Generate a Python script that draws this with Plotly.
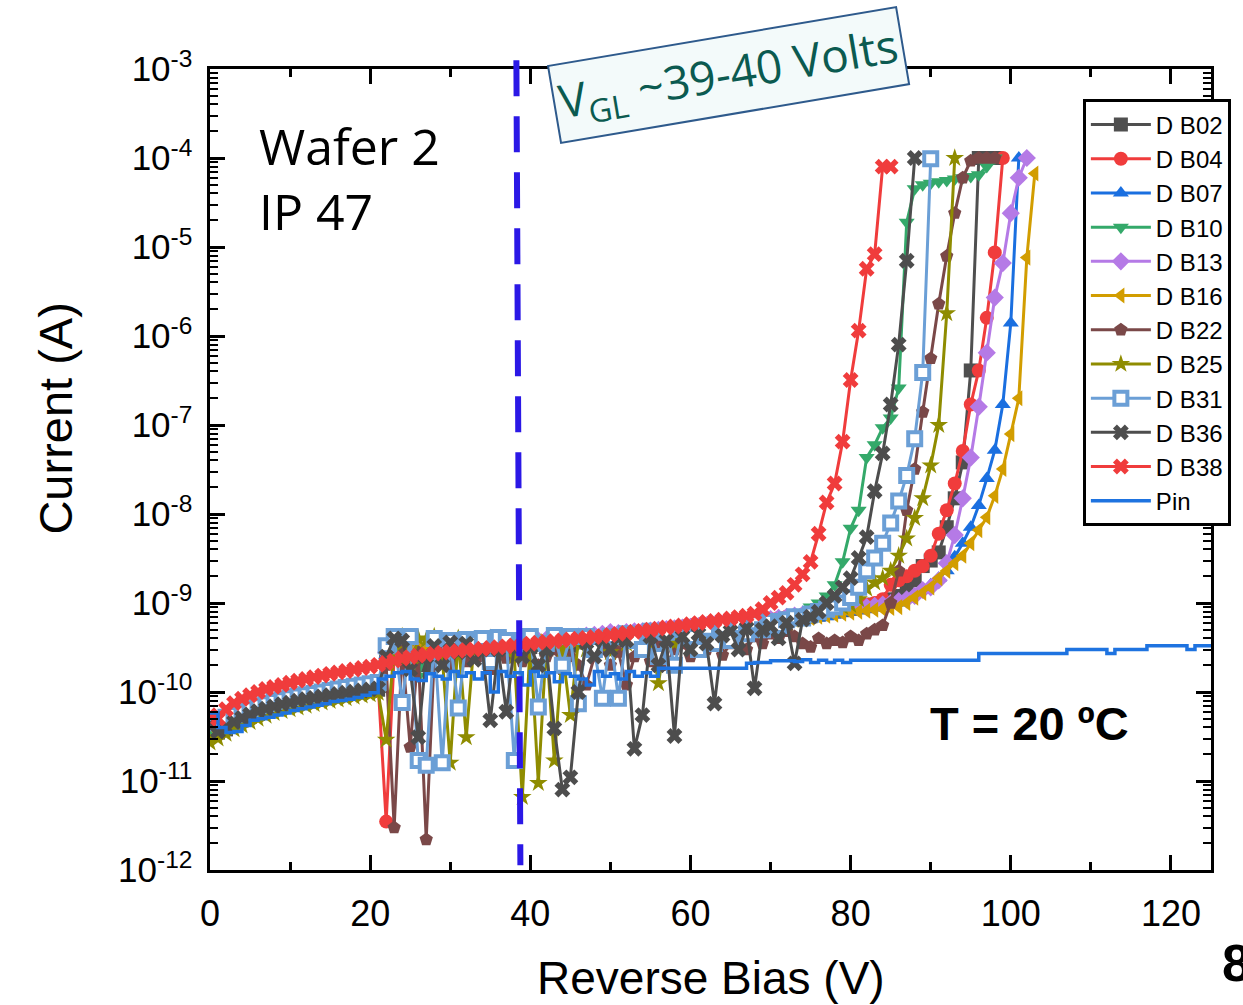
import plotly.graph_objects as go

# Currents in pA (1 pA = 1e-12 A); index = reverse bias in volts (1 V steps)
PA = 1e-12

db02 = [40, 35, 38, 43, 48, 53, 57, 61, 65, 69,
        72, 76, 79, 82, 85, 88, 91, 94, 97, 100,
        103, 106, 280, 300, 250, 310, 290, 200, 300, 310,
        260, 320, 300, 330, 280, 320, 340, 300, 330, 350,
        320, 340, 300, 360, 350, 330, 370, 360, 380, 350,
        390, 400, 380, 410, 420, 400, 440, 450, 430, 470,
        480, 460, 500, 510, 490, 530, 540, 520, 560, 580,
        600, 620, 640, 660, 690, 710, 740, 770, 800, 830,
        860, 890, 920, 960, 1000, 1100, 1200, 1400, 1800, 2600,
        3000, 3700, 7100, 15000, 38000, 410000, 1e8, 1e8, 1e8]

db04 = [50, 42, 45, 50, 55, 60, 65, 69, 73, 77,
        81, 85, 88, 92, 95, 98, 102, 105, 108, 111,
        115, 120, 3.5, 250, 280, 260, 290, 270, 300, 280,
        310, 300, 320, 310, 330, 320, 340, 330, 350, 340,
        360, 350, 370, 360, 380, 370, 390, 390, 400, 400,
        410, 420, 430, 440, 450, 460, 470, 480, 490, 500,
        510, 520, 530, 540, 550, 560, 580, 600, 620, 640,
        660, 680, 700, 720, 740, 760, 780, 800, 830, 860,
        890, 920, 960, 1000, 1100, 1600, 1800, 2000, 2300, 2600,
        3400, 6000, 11000, 22000, 51000, 170000, 410000, 1.6e6, 8.7e6, 1e8]

db07 = [45, 37, 40, 45, 50, 54, 58, 62, 66, 70,
        73, 77, 80, 83, 86, 89, 92, 95, 98, 101,
        104, 108, 260, 270, 280, 270, 290, 280, 300, 290,
        300, 310, 300, 320, 310, 330, 320, 330, 340, 330,
        350, 340, 350, 360, 350, 370, 360, 380, 370, 390,
        380, 400, 400, 410, 420, 420, 430, 440, 450, 460,
        470, 480, 490, 500, 510, 520, 530, 540, 550, 560,
        580, 590, 600, 620, 640, 660, 680, 700, 740, 770,
        800, 830, 860, 890, 920, 960, 1000, 1100, 1250, 1400,
        1600, 1900, 2300, 3300, 4700, 7100, 12500, 25000, 52000, 170000,
        1.4e6, 1e8]

db10 = [38, 34, 38, 43, 48, 53, 58, 62, 66, 70,
        73, 77, 80, 83, 86, 89, 92, 95, 98, 101,
        104, 108, 250, 260, 240, 270, 150, 280, 260, 290,
        270, 300, 280, 310, 290, 320, 300, 330, 310, 340,
        320, 340, 330, 350, 340, 360, 350, 370, 360, 380,
        380, 400, 390, 410, 420, 430, 440, 450, 460, 470,
        480, 490, 500, 510, 520, 530, 540, 560, 580, 600,
        620, 640, 660, 690, 720, 900, 1000, 1200, 1600, 2900,
        6900, 11000, 43000, 60000, 93000, 120000, 260000, 1.9e7, 4.5e7, 5.0e7,
        5.2e7, 5.4e7, 5.6e7, 5.8e7, 6.0e7, 6.2e7, 6.5e7, 8.0e7, 1e8]

db13 = [48, 40, 43, 48, 53, 58, 62, 66, 70, 74,
        78, 82, 85, 88, 92, 95, 98, 101, 104, 108,
        112, 116, 280, 290, 300, 300, 310, 310, 320, 320,
        330, 330, 340, 340, 350, 350, 360, 360, 370, 370,
        380, 380, 390, 390, 400, 410, 420, 430, 440, 450,
        470, 460, 470, 480, 480, 490, 500, 510, 520, 530,
        540, 550, 560, 570, 580, 590, 600, 610, 630, 650,
        660, 680, 700, 720, 740, 760, 780, 800, 820, 840,
        860, 880, 900, 930, 960, 1000, 1050, 1100, 1200, 1400,
        1500, 1800, 2800, 5800, 15000, 43000, 160000, 650000, 2.7e6, 6.6e6,
        2.4e7, 6e7, 1e8]

db16 = [44, 36, 39, 44, 49, 53, 57, 61, 65, 69,
        72, 76, 79, 82, 85, 88, 91, 94, 97, 100,
        103, 107, 270, 280, 290, 290, 300, 300, 310, 310,
        320, 320, 330, 330, 340, 340, 350, 350, 360, 360,
        370, 370, 380, 380, 390, 390, 400, 400, 410, 410,
        420, 430, 440, 450, 460, 470, 480, 490, 500, 510,
        520, 530, 540, 550, 560, 570, 580, 590, 600, 610,
        620, 630, 640, 650, 660, 680, 700, 720, 740, 760,
        780, 800, 820, 840, 860, 880, 900, 1000, 1150, 1300,
        1500, 1900, 2300, 2800, 3400, 4700, 6600, 9200, 16000, 32000,
        79000, 200000, 7.6e6, 6.7e7]

db22 = [45, 38, 40, 45, 50, 55, 60, 64, 68, 72,
        75, 79, 82, 85, 88, 91, 94, 97, 100, 103,
        106, 110, 200, 3.0, 300, 24, 280, 2.2, 250, 300,
        200, 280, 220, 300, 250, 180, 280, 240, 300, 220,
        280, 200, 250, 300, 180, 250, 200, 120, 250, 300,
        200, 280, 120, 250, 300, 220, 330, 200, 300, 350,
        250, 330, 300, 380, 260, 350, 400, 300, 420, 350,
        450, 400, 480, 420, 350, 320, 400, 350, 380, 360,
        420, 380, 450, 500, 560, 1000, 2300, 11000, 32000, 140000,
        560000, 2.3e6, 7.9e6, 2.4e7, 6e7, 9.3e7, 1e8, 1e8, 1e8]

db25 = [27, 30, 34, 38, 42, 46, 50, 54, 58, 61,
        64, 67, 70, 73, 76, 79, 82, 85, 88, 91,
        94, 98, 29, 300, 420, 200, 400, 380, 420, 250,
        16, 400, 31, 380, 300, 400, 320, 380, 250, 6.6,
        380, 9.5, 350, 17, 300, 55, 380, 300, 350, 400,
        280, 420, 350, 430, 300, 450, 125, 460, 350, 480,
        400, 500, 380, 520, 450, 550, 420, 560, 480, 600,
        550, 620, 600, 650, 700, 720, 780, 820, 850, 900,
        950, 1100, 1450, 1700, 1900, 2300, 3400, 5300, 9000, 15000,
        35000, 100000, 1.8e6, 1e8]

db31 = [48, 45, 52, 56, 60, 65, 70, 74, 78, 82,
        86, 90, 93, 96, 100, 104, 108, 112, 116, 120,
        124, 128, 330, 420, 76, 420, 17, 15, 400, 16,
        380, 66, 390, 360, 400, 220, 410, 380, 17, 380,
        420, 68, 350, 430, 200, 420, 74, 420, 300, 85,
        420, 85, 450, 380, 300, 480, 250, 470, 200, 500,
        420, 300, 520, 350, 540, 380, 560, 450, 600, 500,
        620, 560, 650, 700, 680, 750, 800, 850, 900, 1000,
        1150, 1500, 2300, 3200, 4700, 7900, 14000, 27000, 70000, 390000,
        9.8e7]

db36 = [42, 36, 40, 46, 51, 56, 61, 65, 69, 73,
        76, 80, 83, 86, 89, 92, 95, 98, 101, 104,
        107, 110, 250, 400, 380, 180, 31, 250, 330, 200,
        360, 280, 350, 230, 300, 48, 300, 60, 330, 250,
        320, 200, 300, 39, 8, 11, 100, 360, 250, 380,
        300, 400, 380, 23, 55, 420, 200, 380, 32, 420,
        300, 450, 350, 74, 430, 480, 300, 520, 110, 500,
        550, 400, 600, 210, 650, 700, 800, 1000, 1200, 1500,
        1900, 3200, 5500, 18000, 48000, 170000, 800000, 7e6, 1e8]

db38 = [55, 50, 64, 75, 84, 92, 100, 108, 114, 120,
        127, 134, 140, 147, 153, 160, 166, 172, 179, 186,
        193, 202, 212, 225, 238, 247, 256, 263, 270, 277,
        284, 290, 296, 301, 306, 312, 318, 326, 333, 340,
        350, 358, 365, 372, 380, 390, 398, 406, 415, 425,
        437, 450, 462, 475, 487, 500, 515, 530, 545, 560,
        578, 595, 612, 630, 650, 672, 695, 720, 760, 850,
        1000, 1150, 1300, 1600, 2100, 2900, 6000, 13500, 22000, 65000,
        320000, 1.15e6, 5.7e6, 8.3e6, 8e7, 8e7]

pin = [58, 40, 35, 36, 42, 48, 50, 52, 55, 58,
       62, 65, 68, 71, 74, 78, 80, 83, 87, 92,
       98, 140, 150, 165, 170, 140, 135, 160, 150, 140,
       170, 150, 165, 140, 165, 100, 170, 150, 165, 120,
       170, 150, 165, 130, 160, 150, 140, 120, 170, 150,
       160, 140, 170, 150, 165, 150, 185, 185, 185, 185,
       185, 185, 185, 185, 185, 185, 185, 210, 215, 215,
       225, 225, 225, 220, 230, 215, 228, 215, 228, 215,
       228, 228, 228, 228, 228, 228, 228, 228, 228, 228,
       228, 228, 228, 228, 228, 228, 270, 270, 270, 270,
       270, 270, 270, 270, 270, 270, 270, 300, 300, 300,
       300, 300, 270, 300, 300, 300, 300, 330, 330, 330,
       330, 330, 300, 330, 330, 330]

series = [
    ("D B02", db02, "square", "#4f4f4f"),
    ("D B04", db04, "circle", "#f03c3c"),
    ("D B07", db07, "triangle-up", "#1a6fe0"),
    ("D B10", db10, "triangle-down", "#34a96a"),
    ("D B13", db13, "diamond", "#b57ae6"),
    ("D B16", db16, "triangle-left", "#d29d00"),
    ("D B22", db22, "pentagon", "#7a4848"),
    ("D B25", db25, "star", "#8f8c00"),
    ("D B31", db31, "square", "#6b9fd6"),
    ("D B36", db36, "x", "#4d4d4d"),
    ("D B38", db38, "x", "#f03c3c"),
]

fig = go.Figure()
for name, vals, sym, col in series:
    if name == "D B31":
        mk = dict(symbol=sym, size=13, color="white", line=dict(color=col, width=4))
    else:
        mk = dict(symbol=sym, size=14, color=col, line=dict(width=0))
    fig.add_trace(go.Scatter(
        x=list(range(len(vals))), y=[v * PA for v in vals],
        mode="lines+markers", name=name,
        line=dict(color=col, width=3), marker=mk))

fig.add_trace(go.Scatter(
    x=list(range(len(pin))), y=[v * PA for v in pin],
    mode="lines", name="Pin", line=dict(color="#1e73e0", width=3.5, shape="hv")))

axis_common = dict(
    showline=True, linewidth=3, linecolor="black", mirror="allticks",
    ticks="inside", ticklen=15, tickwidth=3, tickcolor="black",
    showgrid=False, zeroline=False,
)

alias = {"10<sup>\u2212%d</sup>" % k: "10<sup>-%d</sup>" % k for k in range(3, 13)}

fig.update_layout(
    width=1243, height=1005,
    margin=dict(l=210, r=30, t=69, b=135),
    paper_bgcolor="white", plot_bgcolor="white",
    font=dict(family="Liberation Sans, Arial, sans-serif", color="black"),
    xaxis=dict(range=[0, 125], tick0=0, dtick=20,
               minor=dict(dtick=10, ticks="inside", ticklen=8, tickwidth=3, tickcolor="black", showgrid=False),
               tickfont=dict(size=36), ticklabelstandoff=10, **axis_common),
    yaxis=dict(type="log", range=[-12, -3], dtick=1, exponentformat="power",
               labelalias=alias,
               minor=dict(dtick="D1", ticks="inside", ticklen=8, tickwidth=2, tickcolor="black", showgrid=False),
               tickfont=dict(size=28), ticklabelstandoff=9, **axis_common),
    showlegend=True,
    legend=dict(x=0.872, y=0.962, xanchor="left", yanchor="top",
                bgcolor="white", bordercolor="black", borderwidth=3,
                font=dict(size=24, family="Liberation Sans, Arial"),
                tracegroupgap=0, itemwidth=60),
)

fig.add_shape(type="line", xref="x", yref="paper",
              x0=38.26, y0=1.011, x1=38.76, y1=0.006,
              line=dict(color="#2b18e6", width=6, dash="36px,20px"), layer="above")

fig.add_annotation(x=64.8, xref="x", y=0.993, yref="paper",
                   text="V<sub>GL</sub> ~39-40 Volts", textangle=-9.6, showarrow=False,
                   font=dict(family="Open Sans", size=46, color="#0b5a50"),
                   bgcolor="#f3fafa", bordercolor="#2e5a8c", borderwidth=2, borderpad=4,
                   xanchor="center", yanchor="middle")

fig.add_annotation(x=0.047, xref="paper", y=0.949, yref="paper",
                   text="Wafer 2<br>IP 47", showarrow=False, align="left",
                   xanchor="left", yanchor="top",
                   font=dict(family="Open Sans", size=50, color="black"))

fig.add_annotation(x=0.8186, xref="paper", y=0.1835, yref="paper",
                   text="<b>T = 20 ºC</b>", showarrow=False,
                   xanchor="center", yanchor="middle",
                   font=dict(family="Liberation Sans, Arial", size=47, color="black"))

fig.add_annotation(x=-0.1545, xref="paper", y=0.564, yref="paper",
                   text="Current (A)", textangle=-90, showarrow=False,
                   xanchor="center", yanchor="middle",
                   font=dict(family="Liberation Sans, Arial", size=47, color="black"))

fig.add_annotation(x=0.5, xref="paper", y=-0.135, yref="paper",
                   text="Reverse Bias (V)", showarrow=False,
                   xanchor="center", yanchor="middle",
                   font=dict(family="Liberation Sans, Arial", size=46, color="black"))

fig.add_annotation(x=1.009, xref="paper", y=-0.116, yref="paper",
                   text="<b>8</b>", showarrow=False,
                   xanchor="left", yanchor="middle",
                   font=dict(family="Liberation Sans, Arial", size=52, color="black"))

fig.write_html("out.html")
